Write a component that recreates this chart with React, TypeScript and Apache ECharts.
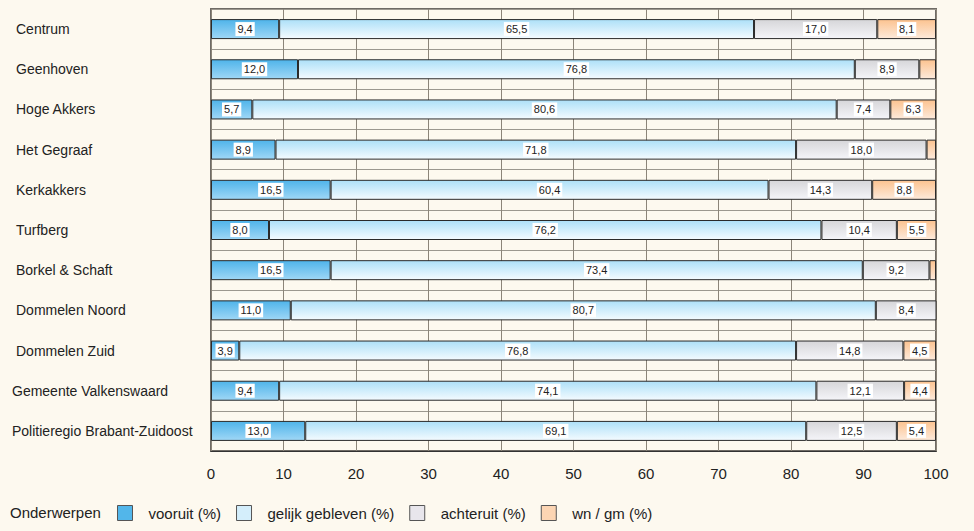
import React, { useEffect, useRef } from "react";
import * as echarts from "echarts";

const categories = [
  "Centrum",
  "Geenhoven",
  "Hoge Akkers",
  "Het Gegraaf",
  "Kerkakkers",
  "Turfberg",
  "Borkel & Schaft",
  "Dommelen Noord",
  "Dommelen Zuid",
  "Gemeente Valkenswaard",
  "Politieregio Brabant-Zuidoost",
];
const vooruit = [9.4, 12.0, 5.7, 8.9, 16.5, 8.0, 16.5, 11.0, 3.9, 9.4, 13.0];
const gelijk = [65.5, 76.8, 80.6, 71.8, 60.4, 76.2, 73.4, 80.7, 76.8, 74.1, 69.1];
const achteruit = [17.0, 8.9, 7.4, 18.0, 14.3, 10.4, 9.2, 8.4, 14.8, 12.1, 12.5];
const wngm = [8.1, 2.3, 6.3, 1.3, 8.8, 5.5, 0.9, 0.0, 4.5, 4.4, 5.4];
const seriesNames = ["vooruit (%)", "gelijk gebleven (%)", "achteruit (%)", "wn / gm (%)"];
const xTicks = [0, 10, 20, 30, 40, 50, 60, 70, 80, 90, 100];

const FONT = "'Liberation Sans', Arial, sans-serif";

function grad(top: string, bottom: string) {
  return new echarts.graphic.LinearGradient(0, 0, 0, 1, [
    { offset: 0, color: top },
    { offset: 1, color: bottom },
  ]);
}

export default function App() {
  const ref = useRef<HTMLDivElement>(null);
  useEffect(() => {
    if (!ref.current) return;
    const chart = echarts.init(ref.current, undefined, { renderer: "svg" });
    const fills = [
      grad("#4fb4ea", "#9fd7f6"),
      grad("#ade0f8", "#f4fbff"),
      grad("#d6d6d9", "#f5f5f9"),
      grad("#fcc390", "#fdeadb"),
    ];
    const legendFills = ["#52b6ea", "#d4eefb", "#e8e6ec", "#fcd5b3"];
    const datasets = [vooruit, gelijk, achteruit, wngm];
    chart.setOption({
      animation: false,
      backgroundColor: "#fdf9ef",
      grid: {
        left: 211,
        right: 38,
        top: 9,
        bottom: 80,
        show: true,
        backgroundColor: "#fdf9ef",
        borderColor: "#6f6b65",
        borderWidth: 2,
      },
      graphic: [
        {
          type: "text",
          left: 10,
          top: 505,
          style: { text: "Onderwerpen", font: "15px " + FONT, fill: "#222" },
        },
      ],
      legend: {
        left: 112,
        top: 500,
        itemWidth: 15,
        itemHeight: 15,
        itemGap: 15,
        icon: "rect",
        textStyle: { fontFamily: FONT, fontSize: 15, color: "#222", padding: [0, 0, 0, 11] },
        data: seriesNames.map((n, i) => ({
          name: n,
          itemStyle: { color: legendFills[i], borderColor: "#555", borderWidth: 1 },
        })),
      },
      xAxis: {
        type: "value",
        min: 0,
        max: 100,
        interval: 10,
        axisLine: { show: true, lineStyle: { color: "#333" } },
        axisTick: { show: false },
        axisLabel: {
          color: "#222",
          fontFamily: FONT,
          fontSize: 15,
          margin: 15,
          formatter: (v: number) => (xTicks.includes(v) ? String(v) : ""),
        },
        splitLine: { show: true, lineStyle: { color: "#8c8579", width: 1 } },
      },
      yAxis: {
        type: "category",
        inverse: true,
        data: categories,
        axisLine: { show: false },
        axisTick: { show: false },
        splitLine: { show: true, lineStyle: { color: "#9c988f", width: 1 } },
        axisLabel: {
          align: "left",
          margin: 199,
          formatter: (v: string) => (v.length > 20 ? "{b|" + v + "}" : "{a|" + v + "}"),
          rich: {
            a: { fontFamily: FONT, fontSize: 14, color: "#222", padding: [0, 0, 0, 4] },
            b: { fontFamily: FONT, fontSize: 14, color: "#222" },
          },
        },
      },
      series: datasets.map((d, i) => ({
        name: seriesNames[i],
        type: "bar",
        stack: "total",
        barWidth: 20,
        itemStyle: { color: fills[i], borderColor: "#2a2a2a", borderWidth: 1 },
        label: {
          position: "inside",
          color: "#222",
          fontFamily: FONT,
          fontSize: 11,
          backgroundColor: "#ffffff",
          padding: [2, 2, 1, 2],
          formatter: (p: any) => Number(p.value).toFixed(1).replace(".", ","),
        },
        data: d.map((v) => ({ value: v, label: { show: v >= 3 } })),
      })),
    });
    return () => chart.dispose();
  }, []);
  return <div ref={ref} style={{ width: 974, height: 531, position: "absolute", left: 0, top: 0 }} />;
}
